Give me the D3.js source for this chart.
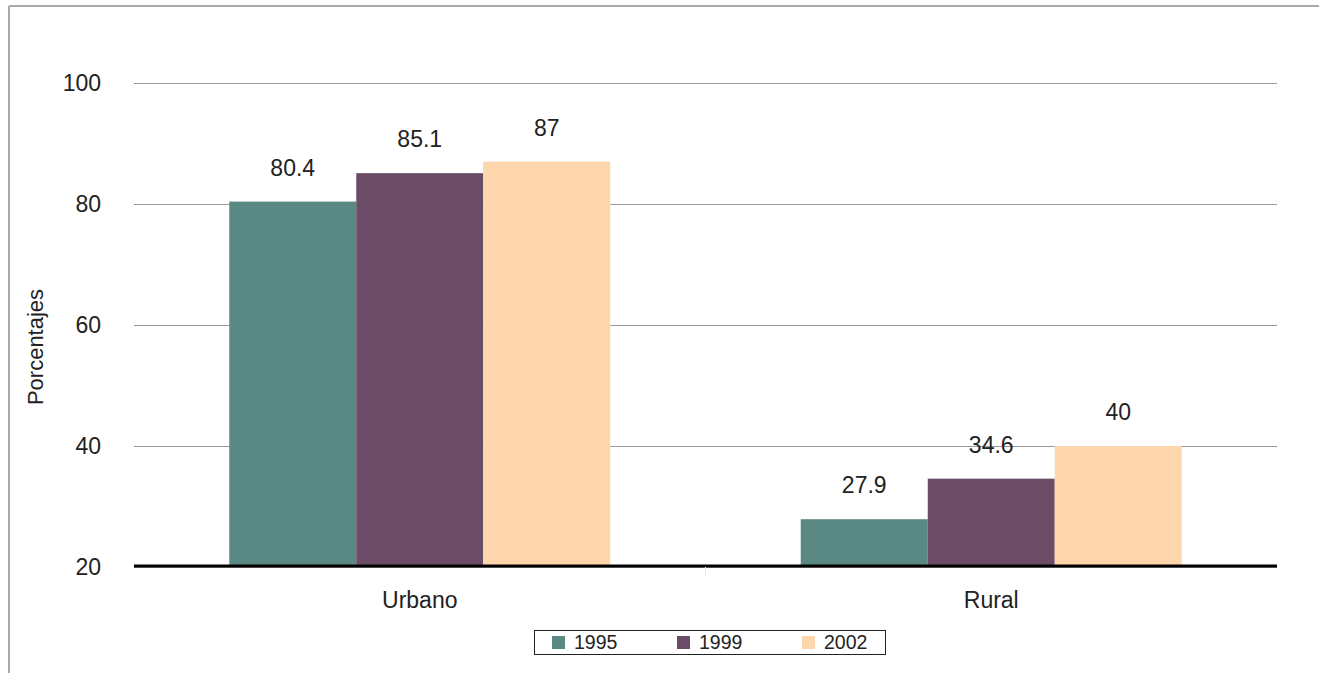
<!DOCTYPE html>
<html>
<head>
<meta charset="utf-8">
<script src="https://cdn.jsdelivr.net/npm/d3@7"></script>
<style>
  body { margin: 0; background: #fff; }
  text { font-family: "Liberation Sans", Arial, sans-serif; fill: #222; }
</style>
</head>
<body>
<div id="chart"></div>
<script>
// data
var categories = ['Urbano', 'Rural'];
var years = ['1995', '1999', '2002'];
var values1995 = [80.4, 27.9];
var values1999 = [85.1, 34.6];
var values2002 = [87, 40];
var yTicks = [20, 40, 60, 80, 100];
var colors = ['#5a8984', '#6a4c66', '#fed6ae'];

var W = 1319, H = 673;
var svg = d3.select('#chart').append('svg').attr('width', W).attr('height', H);

// frame
svg.append('line').attr('x1', 9).attr('x2', 9).attr('y1', 6).attr('y2', H)
    .attr('stroke', '#aaa').attr('stroke-width', 2);
svg.append('line').attr('x1', 9).attr('x2', W).attr('y1', 6).attr('y2', 6)
    .attr('stroke', '#aaa').attr('stroke-width', 2);

var left = 134, right = 1277;
var y = d3.scaleLinear().domain([20, 100]).range([567, 83]);
var x0 = d3.scaleBand().domain(categories).range([left, right])
    .paddingInner(1 / 3).paddingOuter(1 / 6);
var x1 = d3.scaleBand().domain(years).range([0, x0.bandwidth()]);

// gridlines
svg.append('g').selectAll('line').data(yTicks).enter().append('line')
    .attr('x1', left).attr('x2', right)
    .attr('y1', function (d) { return Math.round(y(d)) + 0.5; })
    .attr('y2', function (d) { return Math.round(y(d)) + 0.5; })
    .attr('stroke', '#999').attr('stroke-width', 1);

// y labels
svg.append('g').selectAll('text').data(yTicks).enter().append('text')
    .attr('x', 101).attr('y', function (d) { return y(d); })
    .attr('dy', '0.35em').attr('text-anchor', 'end')
    .style('font-size', '23px').text(function (d) { return d; });

svg.append('text')
    .attr('transform', 'translate(43,' + 347 + ') rotate(-90)')
    .attr('text-anchor', 'middle').style('font-size', '22px').text('Porcentajes');

// bars
var rows = categories.map(function (c, i) {
    return { cat: c, vals: [values1995[i], values1999[i], values2002[i]] };
});

var groups = svg.append('g').selectAll('g').data(rows).enter().append('g')
    .attr('transform', function (d) { return 'translate(' + x0(d.cat) + ',0)'; });

groups.selectAll('rect')
    .data(function (d) { return d.vals.map(function (v, j) { return { year: years[j], v: v, j: j }; }); })
    .enter().append('rect')
    .attr('x', function (d) { return x1(d.year); })
    .attr('width', x1.bandwidth())
    .attr('y', function (d) { return y(d.v); })
    .attr('height', function (d) { return y(20) - y(d.v); })
    .attr('fill', function (d) { return colors[d.j]; });

groups.selectAll('text')
    .data(function (d) { return d.vals.map(function (v, j) { return { year: years[j], v: v }; }); })
    .enter().append('text')
    .attr('x', function (d) { return x1(d.year) + x1.bandwidth() / 2; })
    .attr('y', function (d) { return y(d.v) - 26; })
    .attr('text-anchor', 'middle').style('font-size', '23px')
    .text(function (d) { return d.v; });

// baseline
svg.append('line').attr('x1', left).attr('x2', right)
    .attr('y1', y(20) - 1).attr('y2', y(20) - 1)
    .attr('stroke', '#000').attr('stroke-width', 3);
svg.append('line').attr('x1', (left + right) / 2).attr('x2', (left + right) / 2)
    .attr('y1', y(20)).attr('y2', y(20) + 10)
    .attr('stroke', '#fde6d0').attr('stroke-width', 1);

// category labels
svg.append('g').selectAll('text').data(categories).enter().append('text')
    .attr('x', function (d) { return x0(d) + x0.bandwidth() / 2; })
    .attr('y', 608).attr('text-anchor', 'middle').style('font-size', '23px')
    .text(function (d) { return d; });

// legend
var legend = svg.append('g');
legend.append('rect').attr('x', 534.5).attr('y', 630.5).attr('width', 351).attr('height', 24)
    .attr('fill', '#fff').attr('stroke', '#222').attr('stroke-width', 1);
var legX = [552, 677, 802];
years.forEach(function (yr, i) {
    legend.append('rect').attr('x', legX[i]).attr('y', 636).attr('width', 13).attr('height', 13)
        .attr('fill', colors[i]);
    legend.append('text').attr('x', legX[i] + 22).attr('y', 649)
        .style('font-size', '19.5px').text(yr);
});
</script>
</body>
</html>
